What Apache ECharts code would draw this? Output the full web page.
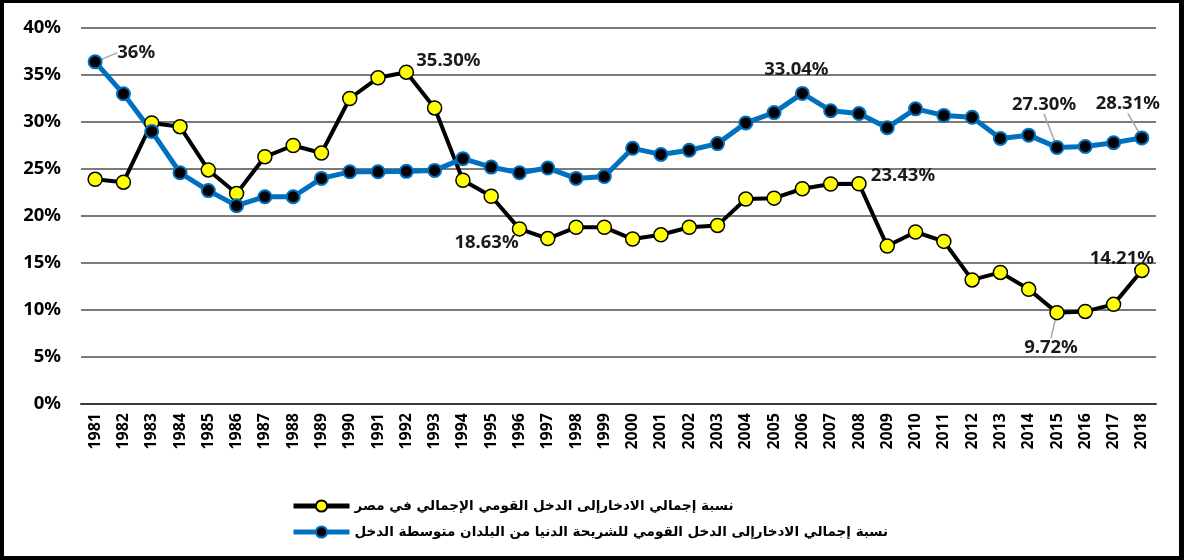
<!DOCTYPE html>
<html>
<head>
<meta charset="utf-8">
<script src="https://cdn.jsdelivr.net/npm/echarts@6/dist/echarts.min.js"></script>
<style>
  html, body { margin: 0; padding: 0; background: #fff; }
  #chart {
    width: 1184px;
    height: 560px;
    box-sizing: border-box;
    border-style: solid;
    border-color: #000;
    border-width: 3px 5px 4px 4px;
  }
</style>
</head>
<body>
<div id="chart"></div>
<script>
const years = [
  "1981", "1982", "1983", "1984", "1985", "1986", "1987", "1988", "1989", "1990",
  "1991", "1992", "1993", "1994", "1995", "1996", "1997", "1998", "1999", "2000",
  "2001", "2002", "2003", "2004", "2005", "2006", "2007", "2008", "2009", "2010",
  "2011", "2012", "2013", "2014", "2015", "2016", "2017", "2018",
];

// savings / GNI, Egypt (%)
const egyptSavings = [
  23.9, 23.6, 29.9, 29.5, 24.9, 22.4, 26.3, 27.5, 26.7, 32.5,
  34.7, 35.3, 31.5, 23.8, 22.1, 18.63, 17.6, 18.8, 18.8, 17.55,
  18.0, 18.8, 19.0, 21.8, 21.9, 22.9, 23.4, 23.43, 16.8, 18.3,
  17.3, 13.2, 14.0, 12.2, 9.72, 9.85, 10.6, 14.21,
];

// savings / GNI, lower middle income countries (%)
const lmicSavings = [
  36.4, 33.0, 29.0, 24.6, 22.7, 21.1, 22.05, 22.05, 24.0, 24.7,
  24.7, 24.75, 24.85, 26.1, 25.2, 24.6, 25.1, 24.0, 24.2, 27.2,
  26.55, 27.0, 27.7, 29.9, 31.0, 33.04, 31.2, 30.9, 29.4, 31.4,
  30.7, 30.5, 28.25, 28.6, 27.3, 27.4, 27.8, 28.31,
];

const seriesNames = [
  "نسبة إجمالي الادخارإلى الدخل القومي الإجمالي في مصر",
  "نسبة إجمالي الادخارإلى الدخل القومي للشريحة الدنيا من البلدان متوسطة الدخل",
];

const yTicks = [0, 5, 10, 15, 20, 25, 30, 35, 40];

// annotated points: index -> label text
const egyptNotes = { 11: "35.30%", 15: "18.63%", 27: "23.43%", 34: "9.72%", 37: "14.21%" };
const lmicNotes = { 0: "36%", 25: "33.04%", 34: "27.30%", 37: "28.31%" };

// label shifts from the point (px)
const egyptShift = { 11: [42, -11], 15: [-33, 14], 27: [44, -8], 34: [-6, 35], 37: [-20, -12] };
const lmicShift = { 0: [41, -9], 25: [-6, -24], 34: [-13, -43], 37: [-14, -34] };
const leaderOn = { egypt: [34], lmic: [0, 34, 37] };

const labelFont = { fontFamily: "Noto Sans", fontWeight: "bold", fontSize: 18.5, color: "#1a1a1a" };

function buildData(values, notes, leaders) {
  return values.map((v, i) => {
    if (!(i in notes)) return { value: v, label: { show: false } };
    return {
      value: v,
      label: { show: true, position: "inside", formatter: notes[i], ...labelFont },
      labelLine: { show: leaders.includes(i), lineStyle: { color: "#a6a6a6", width: 1.5 } },
    };
  });
}

function shiftLayout(shifts) {
  return (params) => {
    const s = shifts[params.dataIndex];
    return s ? { dx: s[0], dy: s[1] } : {};
  };
}

const chart = echarts.init(document.getElementById("chart"));

chart.setOption({
  animation: false,
  grid: {
    left: 77,
    right: 23,
    top: 25,
    bottom: 152,
    outerBoundsMode: "none",
  },
  legend: {
    orient: "vertical",
    left: 282,
    top: 491,
    itemWidth: 56,
    itemHeight: 14,
    itemGap: 12,
    lineStyle: { width: 5 },
    textStyle: { fontFamily: "DejaVu Sans", fontWeight: "bold", fontSize: 13.5, color: "#000" },
    data: seriesNames,
  },
  xAxis: {
    type: "category",
    data: years,
    boundaryGap: true,
    axisTick: { show: false },
    axisLine: { lineStyle: { color: "#3a3a3a", width: 2 } },
    axisLabel: {
      rotate: 90,
      margin: 9,
      interval: 0,
      fontFamily: "Noto Sans",
      fontWeight: "bold",
      fontSize: 16,
      color: "#000",
    },
  },
  yAxis: {
    type: "value",
    min: yTicks[0],
    max: yTicks[yTicks.length - 1],
    interval: 5,
    axisLine: { show: false },
    axisTick: { show: false },
    splitLine: { lineStyle: { color: "#7a7a7a", width: 2 } },
    axisLabel: {
      margin: 20,
      formatter: "{value}%",
      fontFamily: "Noto Sans",
      fontWeight: "bold",
      fontSize: 18.5,
      color: "#000",
    },
  },
  series: [
    {
      name: seriesNames[0],
      type: "line",
      data: buildData(egyptSavings, egyptNotes, leaderOn.egypt),
      symbol: "circle",
      symbolSize: 14,
      lineStyle: { color: "#000", width: 4 },
      itemStyle: { color: "#ffff00", borderColor: "#000", borderWidth: 1.5 },
      labelLayout: shiftLayout(egyptShift),
      emphasis: { disabled: true },
    },
    {
      name: seriesNames[1],
      type: "line",
      data: buildData(lmicSavings, lmicNotes, leaderOn.lmic),
      symbol: "circle",
      symbolSize: 13,
      lineStyle: { color: "#0070c0", width: 5 },
      itemStyle: { color: "#000", borderColor: "#0070c0", borderWidth: 2 },
      labelLayout: shiftLayout(lmicShift),
      emphasis: { disabled: true },
    },
  ],
});
</script>
</body>
</html>
